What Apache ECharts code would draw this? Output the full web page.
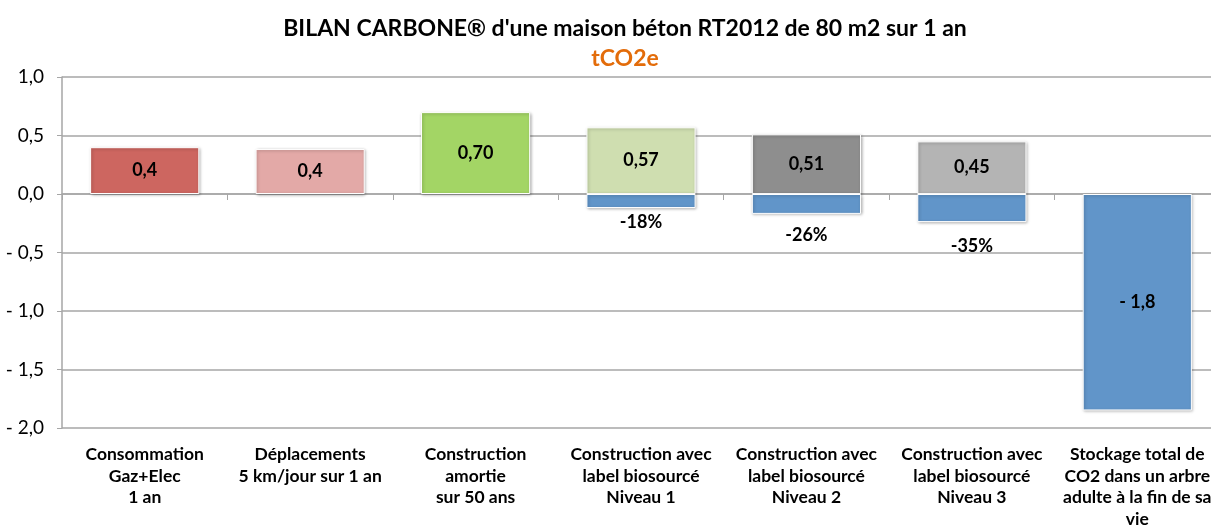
<!DOCTYPE html>
<html>
<head>
<meta charset="utf-8">
<script src="https://cdn.jsdelivr.net/npm/echarts@6/dist/echarts.min.js"></script>
<style>
	html, body { margin: 0; padding: 0; background: #fff; }
	#chart { width: 1211px; height: 531px; }
</style>
</head>
<body>
<div id="chart"></div>
<script>
	// données (tCO2e)
	const categories = [
		'Consommation\nGaz+Elec\n1 an',
		'Déplacements\n5 km/jour sur 1 an',
		'Construction\namortie\nsur 50 ans',
		'Construction avec\nlabel biosourcé\nNiveau 1',
		'Construction avec\nlabel biosourcé\nNiveau 2',
		'Construction avec\nlabel biosourcé\nNiveau 3',
		'Stockage total de\nCO2 dans un arbre\nadulte à la fin de sa\nvie'
	];
	const emissions = [0.4, 0.385, 0.70, 0.57, 0.51, 0.45, '-'];
	const emissionLabels = ['0,4', '0,4', '0,70', '0,57', '0,51', '0,45', ''];
	const stockage = ['-', '-', '-', -0.12, -0.17, -0.24, -1.85];
	const stockageLabels = ['', '', '', '-18%', '-26%', '-35%', '- 1,8'];
	const yTicks = {'1': '1,0', '0.5': '0,5', '0': '0,0', '-0.5': '- 0,5', '-1': '- 1,0', '-1.5': '- 1,5', '-2': '- 2,0'};

	const barColors = ['#CD6660', '#E3A9A7', '#A3D565', '#CFDEB0', '#8E8E8E', '#B4B4B4', '#6195C9'];
	const labelDist = [0, 0, 0, 5, 12, 15, 0];
	const font = 'Lato, "Open Sans", sans-serif';

	const chart = echarts.init(document.getElementById('chart'));
	const shadow = {
		borderColor: '#fff',
		borderWidth: 1,
		shadowBlur: 3,
		shadowOffsetX: 1,
		shadowOffsetY: 1,
		shadowColor: 'rgba(0,0,0,0.3)'
	};

	const option = {
		animation: false,
		title: {
			text: 'BILAN CARBONE® d\'une maison béton RT2012 de 80 m2 sur 1 an',
			subtext: 'tCO2e',
			left: 620,
			textAlign: 'center',
			top: 12,
			itemGap: 7,
			textStyle: { fontFamily: font, fontSize: 23, fontWeight: 'bold', color: '#000' },
			subtextStyle: { fontFamily: font, fontSize: 23, fontWeight: 'bold', color: '#E36C0A' }
		},
		grid: { left: 62, width: 1158, top: 77, height: 351, containLabel: false, outerBoundsMode: 'none' },
		xAxis: [
			{
				type: 'category',
				data: categories,
				axisLine: { onZero: true, lineStyle: { color: '#A6A6A6', width: 1.5 } },
				axisTick: { show: true, length: 6, lineStyle: { color: '#A6A6A6' } },
				axisLabel: { show: false }
			},
			{
				type: 'category',
				data: categories,
				position: 'bottom',
				axisLine: { show: false, onZero: false },
				axisTick: { show: false },
				axisLabel: {
					interval: 0,
					margin: 16,
					fontFamily: font,
					fontSize: 17.5,
					fontWeight: 'bold',
					color: '#000',
					lineHeight: 21.5
				}
			}
		],
		yAxis: {
			type: 'value',
			min: -2,
			max: 1,
			interval: 0.5,
			axisLine: { show: true, lineStyle: { color: '#A6A6A6', width: 1.5 } },
			axisTick: { show: true, length: 5, lineStyle: { color: '#A6A6A6' } },
			splitLine: { lineStyle: { color: '#A6A6A6', width: 1.5 } },
			axisLabel: {
				margin: 18,
				fontFamily: font,
				fontSize: 19,
				color: '#000',
				formatter: v => yTicks[String(v)] || ''
			}
		},
		series: [
			{
				type: 'bar',
				stack: 'bilan',
				barWidth: '66%',
				data: emissions.map((v, i) => ({
					value: v,
					itemStyle: Object.assign({ color: barColors[i] }, shadow)
				})),
				label: {
					show: true,
					position: 'inside',
					fontFamily: font,
					fontSize: 18,
					fontWeight: 'bold',
					color: '#000',
					formatter: p => emissionLabels[p.dataIndex]
				}
			},
			{
				type: 'bar',
				stack: 'bilan',
				barWidth: '66%',
				data: stockage.map((v, i) => ({
					value: v,
					itemStyle: Object.assign({ color: barColors[6] }, shadow),
					label: i < 6
						? { position: 'bottom', distance: labelDist[i] }
						: { position: 'inside' }
				})),
				label: {
					show: true,
					fontFamily: font,
					fontSize: 18,
					fontWeight: 'bold',
					color: '#000',
					formatter: p => stockageLabels[p.dataIndex]
				}
			}
		]
	};
	chart.setOption(option);
	window.addEventListener('resize', () => {
		chart.resize();
	});
</script>
</body>
</html>
